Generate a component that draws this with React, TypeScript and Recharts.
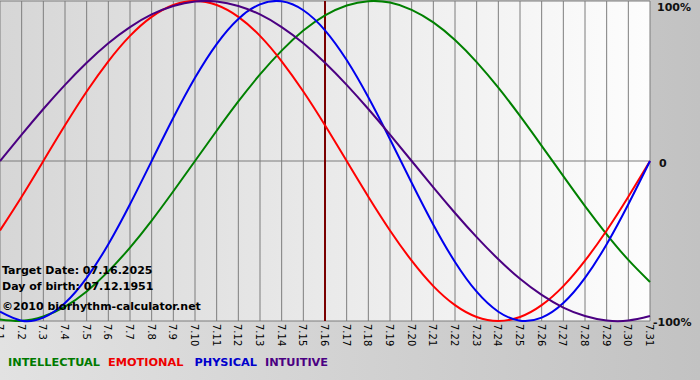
import { CartesianGrid, Line, LineChart, ReferenceLine, XAxis, YAxis } from "recharts"

// days of July 2025
const days = [1, 2, 3, 4, 5, 6, 7, 8, 9, 10, 11, 12, 13, 14, 15, 16, 17, 18, 19, 20, 21, 22, 23, 24, 25, 26, 27, 28, 29, 30, 31]

const physical = [-0.942, -0.998, -0.979, -0.888, -0.731, -0.52, -0.27, 0, 0.27, 0.52, 0.731, 0.888, 0.979, 0.998, 0.942, 0.817, 0.631, 0.398, 0.136, -0.136, -0.398, -0.631, -0.817, -0.942, -0.998, -0.979, -0.888, -0.731, -0.52, -0.27, 0]
const emotional = [-0.434, -0.223, 0, 0.223, 0.434, 0.623, 0.782, 0.901, 0.975, 1, 0.975, 0.901, 0.782, 0.623, 0.434, 0.223, 0, -0.223, -0.434, -0.623, -0.782, -0.901, -0.975, -1, -0.975, -0.901, -0.782, -0.623, -0.434, -0.223, 0]
const intellectual = [-0.99, -0.999, -0.972, -0.91, -0.815, -0.69, -0.541, -0.372, -0.189, 0, 0.189, 0.372, 0.541, 0.69, 0.815, 0.91, 0.972, 0.999, 0.99, 0.945, 0.866, 0.756, 0.618, 0.458, 0.282, 0.095, -0.095, -0.282, -0.458, -0.618, -0.756]
const intuitive = [0, 0.165, 0.325, 0.476, 0.614, 0.736, 0.837, 0.916, 0.969, 0.997, 0.997, 0.969, 0.916, 0.837, 0.736, 0.614, 0.476, 0.325, 0.165, 0, -0.165, -0.325, -0.476, -0.614, -0.736, -0.837, -0.916, -0.969, -0.997, -0.997, -0.969]

const yTicks = [-1, 0, 1]
const yTickLabels: Record<string, string> = { "-1": "-100%", "0": "0", "1": "100%" }
const targetDay = 16

const infoLines = ["Target Date: 07.16.2025", "Day of birth: 07.12.1951"]
const credit = "©2010 biorhythm-calculator.net"

const legendItems = [
  { name: "INTELLECTUAL", color: "#007a00" },
  { name: "EMOTIONAL", color: "#ee0000" },
  { name: "PHYSICAL", color: "#0000cc" },
  { name: "INTUITIVE", color: "#4b0082" },
]

const data = days.map((d, i) => ({
  day: d,
  physical: physical[i],
  emotional: emotional[i],
  intellectual: intellectual[i],
  intuitive: intuitive[i],
}))

const font = "'DejaVu Sans', Verdana, sans-serif"

function DayTick({ x, y, payload }: any) {
  return (
    <g transform={`translate(${x},${y})`}>
      <text x={0} y={0} dy={4} transform="rotate(90)" textAnchor="start" fontSize={10} fontFamily={font} fill="#000">
        {`7.${payload.value}`}
      </text>
    </g>
  )
}

function PercentTick({ y, payload }: any) {
  const v = payload.value
  const left = v === 1 ? 657 : v === 0 ? 659 : 653
  const shift = v === 1 ? 6 : v === 0 ? 2 : 1
  return (
    <text x={left} y={y + shift} dy={4} textAnchor="start" fontSize={11} fontWeight="bold" fontFamily={font} fill="#111">
      {yTickLabels[String(v)]}
    </text>
  )
}

export default function App() {
  return (
    <div
      style={{
        position: "absolute",
        left: 0,
        top: 0,
        width: 700,
        height: 380,
        background: "linear-gradient(to right, #e2e2e2, #c2c2c2)",
      }}
    >
      <LineChart width={700} height={380} data={data} margin={{ top: 1, right: 0, bottom: 0, left: 0 }}>
        <defs>
          <linearGradient id="plotBg" x1="0" y1="0" x2="1" y2="0">
            <stop offset="0%" stopColor="#d6d6d6" />
            <stop offset="100%" stopColor="#fdfdfd" />
          </linearGradient>
        </defs>
        <CartesianGrid stroke="#7d7d7d" fill="url(#plotBg)" />
        <XAxis
          dataKey="day"
          type="number"
          domain={[1, 31]}
          ticks={days}
          interval={0}
          height={59}
          axisLine={false}
          tickLine={false}
          tickSize={0}
          tickMargin={3}
          tick={<DayTick />}
        />
        <YAxis
          orientation="right"
          type="number"
          domain={[-1, 1]}
          ticks={yTicks}
          interval={0}
          width={50}
          axisLine={false}
          tickLine={false}
          tickSize={0}
          tickMargin={0}
          tick={<PercentTick />}
        />
        <ReferenceLine x={targetDay} stroke="#7a0000" strokeWidth={2} />
        <Line type="natural" dataKey="intellectual" stroke="#008000" strokeWidth={2} dot={false} isAnimationActive={false} />
        <Line type="natural" dataKey="emotional" stroke="#ff0000" strokeWidth={2} dot={false} isAnimationActive={false} />
        <Line type="natural" dataKey="physical" stroke="#0000ee" strokeWidth={2} dot={false} isAnimationActive={false} />
        <Line type="natural" dataKey="intuitive" stroke="#4b0082" strokeWidth={2} dot={false} isAnimationActive={false} />
      </LineChart>

      <div style={{ position: "absolute", left: 2, top: 263, fontFamily: font, fontWeight: "bold", fontSize: 11, color: "#000", lineHeight: "16px" }}>
        {infoLines.map((t) => (
          <div key={t}>{t}</div>
        ))}
        <div style={{ marginTop: 4 }}>{credit}</div>
      </div>

      <div style={{ position: "absolute", left: 8, top: 356, fontFamily: font, fontWeight: "bold", fontSize: 11.3, whiteSpace: "nowrap" }}>
        {legendItems.map((item, i) => (
          <span key={item.name} style={{ color: item.color, marginRight: i === 1 ? 11 : 8 }}>
            {item.name}
          </span>
        ))}
      </div>
    </div>
  )
}
